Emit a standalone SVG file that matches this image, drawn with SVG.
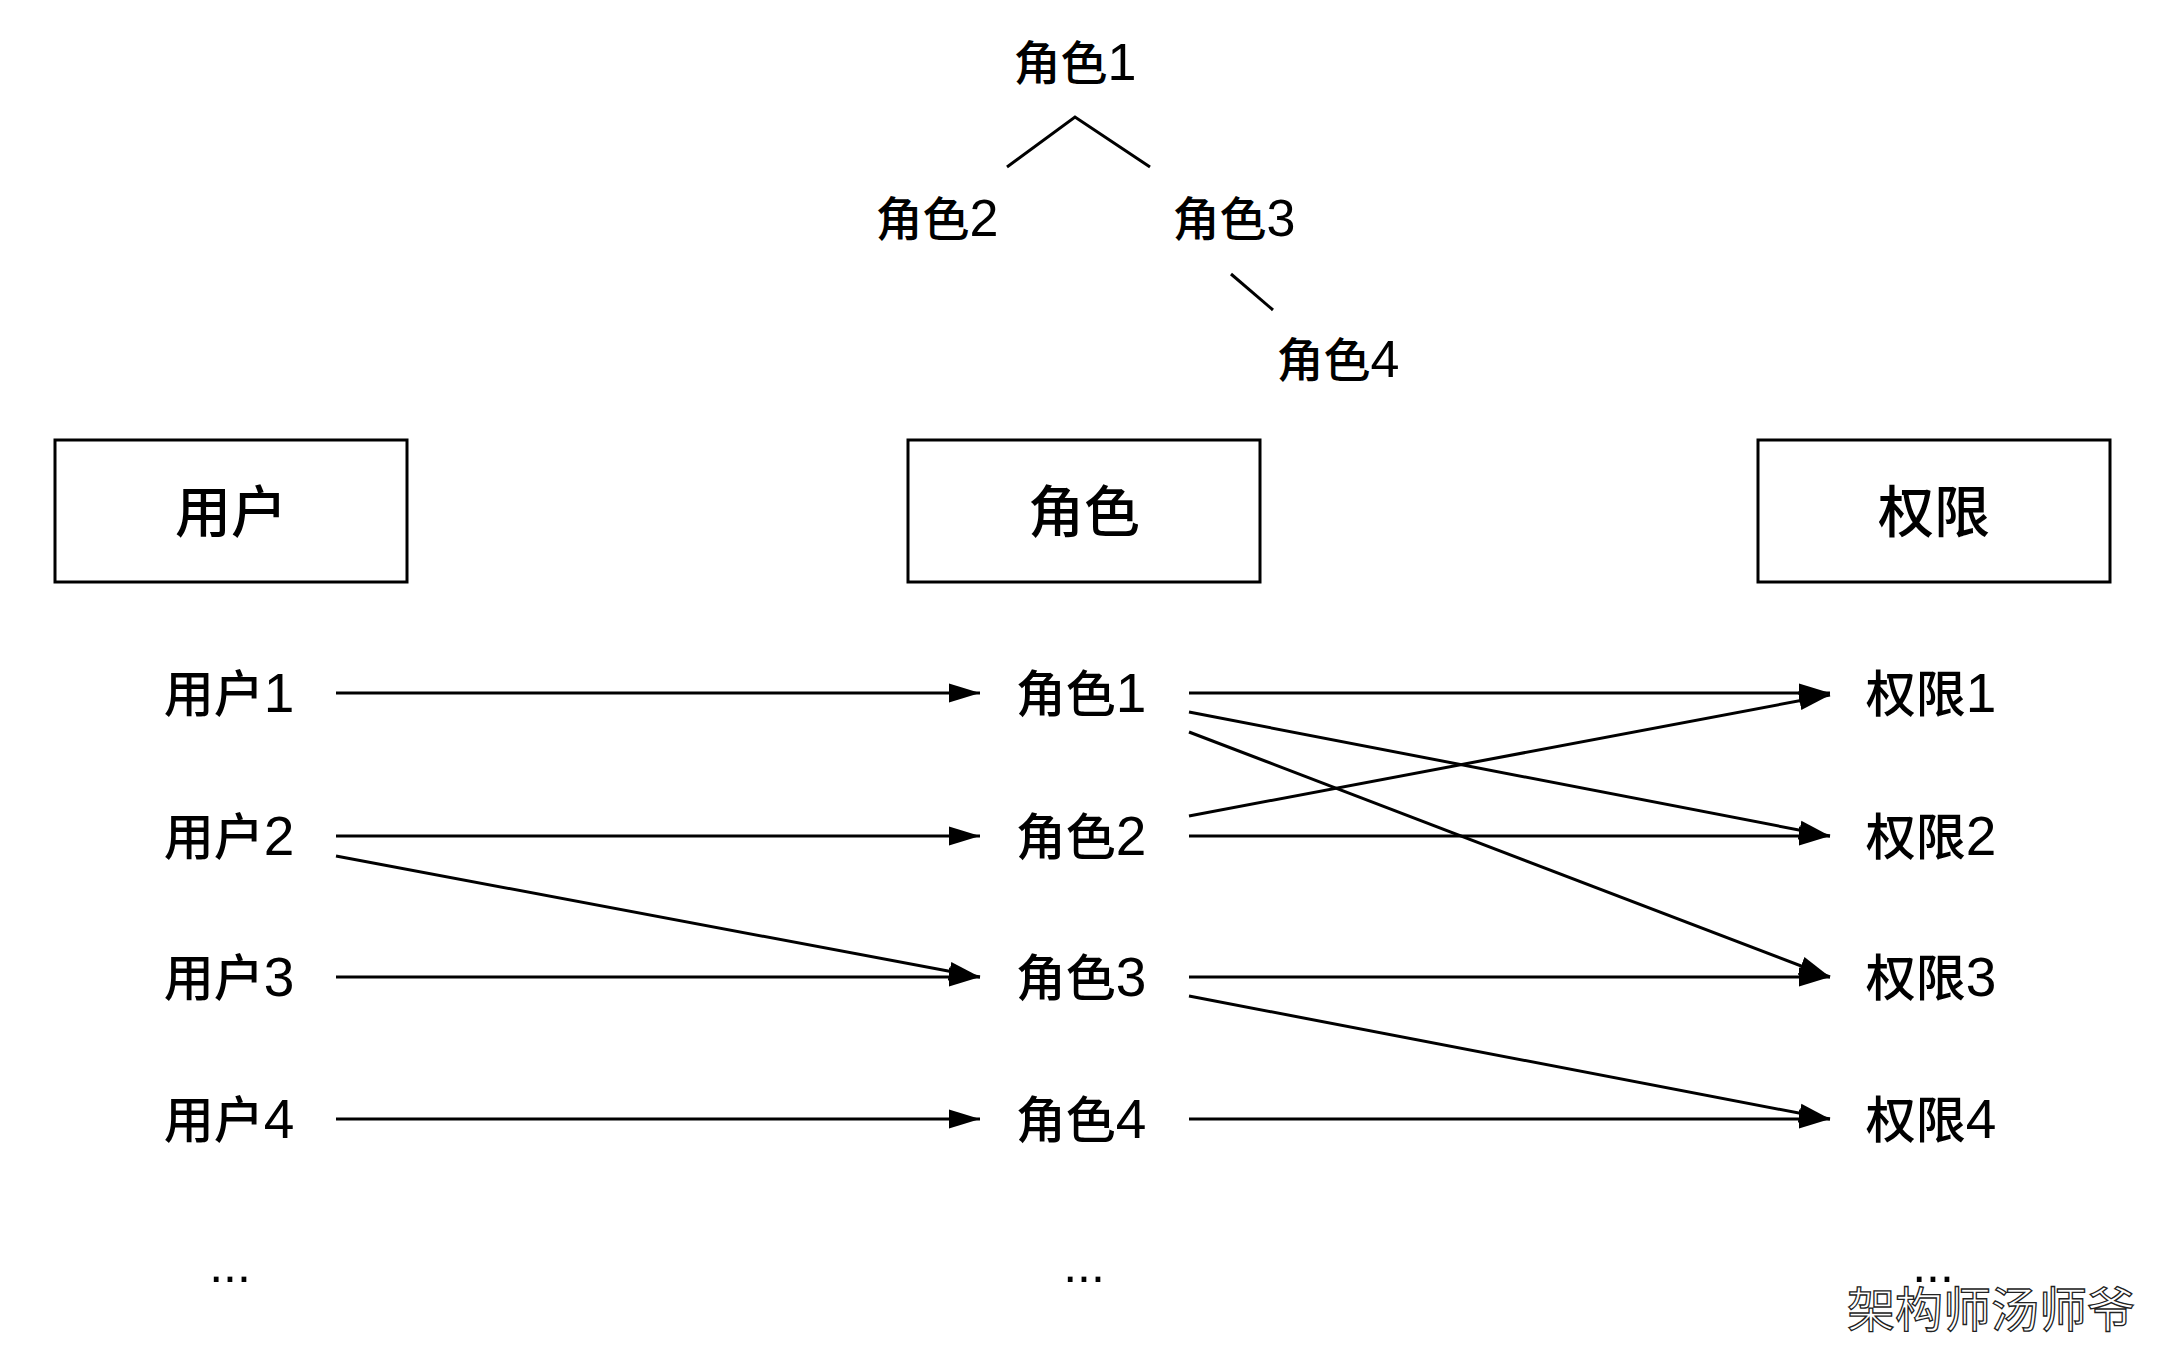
<svg xmlns="http://www.w3.org/2000/svg" width="2160" height="1351" viewBox="0 0 2160 1351">
<style>
text{font-family:"Liberation Sans","Noto Sans CJK SC",sans-serif;fill:#000;text-anchor:middle;font-weight:500}
.t{font-size:50px}
.t tspan{font-size:55px}
.tr{font-size:47px}
.tr tspan{font-size:52px}
.h{font-size:56px}
.box{fill:#fff;stroke:#000;stroke-width:3}
.ln{stroke:#000;stroke-width:3;fill:none}
.ar{stroke:#000;stroke-width:3;fill:none;marker-end:url(#ah)}
.wm{font-family:"Noto Sans CJK SC",sans-serif;font-size:48px;fill:#fff;stroke:#222;stroke-width:1.3px;text-anchor:start;font-weight:400}
</style>
<defs>
<marker id="ah" markerUnits="userSpaceOnUse" markerWidth="31" markerHeight="20" refX="31" refY="10" orient="auto">
<path d="M0,0.5 L31,10 L0,19.5 z" fill="#000"/>
</marker>
</defs>
<rect width="2160" height="1351" fill="#fff"/>
<g id="tree">
<text class="tr" x="1075" y="80">角色<tspan>1</tspan></text>
<text class="tr" x="937" y="236">角色<tspan>2</tspan></text>
<text class="tr" x="1234" y="236">角色<tspan>3</tspan></text>
<text class="tr" x="1338" y="377">角色<tspan>4</tspan></text>
<polyline class="ln" points="1007,167 1075,117 1150,167"/>
<line class="ln" x1="1231" y1="274" x2="1273" y2="310"/>
</g>
<g id="box-user"><rect class="box" x="55" y="440" width="352" height="142"/><text class="h" x="231" y="532">用户</text></g>
<g id="box-role"><rect class="box" x="908" y="440" width="352" height="142"/><text class="h" x="1084" y="532">角色</text></g>
<g id="box-perm"><rect class="box" x="1758" y="440" width="352" height="142"/><text class="h" x="1934" y="532">权限</text></g>
<g id="users">
<text class="t" x="229" y="712">用户<tspan>1</tspan></text>
<text class="t" x="229" y="855">用户<tspan>2</tspan></text>
<text class="t" x="229" y="996">用户<tspan>3</tspan></text>
<text class="t" x="229" y="1138">用户<tspan>4</tspan></text>
<text class="t" x="230" y="1282">...</text>
</g>
<g id="roles">
<text class="t" x="1081" y="712">角色<tspan>1</tspan></text>
<text class="t" x="1081" y="855">角色<tspan>2</tspan></text>
<text class="t" x="1081" y="996">角色<tspan>3</tspan></text>
<text class="t" x="1081" y="1138">角色<tspan>4</tspan></text>
<text class="t" x="1084" y="1282">...</text>
</g>
<g id="perms">
<text class="t" x="1931" y="712">权限<tspan>1</tspan></text>
<text class="t" x="1931" y="855">权限<tspan>2</tspan></text>
<text class="t" x="1931" y="996">权限<tspan>3</tspan></text>
<text class="t" x="1931" y="1138">权限<tspan>4</tspan></text>
<text class="t" x="1933" y="1282">...</text>
</g>
<g id="connectors">
<line class="ar" x1="336" y1="693" x2="980" y2="693"/>
<line class="ar" x1="336" y1="836" x2="980" y2="836"/>
<line class="ar" x1="336" y1="856" x2="980" y2="977"/>
<line class="ar" x1="336" y1="977" x2="980" y2="977"/>
<line class="ar" x1="336" y1="1119" x2="980" y2="1119"/>
<line class="ar" x1="1189" y1="693" x2="1830" y2="693"/>
<line class="ar" x1="1189" y1="712" x2="1830" y2="836"/>
<line class="ar" x1="1189" y1="732" x2="1830" y2="977"/>
<line class="ar" x1="1189" y1="816" x2="1830" y2="695"/>
<line class="ar" x1="1189" y1="836" x2="1830" y2="836"/>
<line class="ar" x1="1189" y1="977" x2="1830" y2="977"/>
<line class="ar" x1="1189" y1="996" x2="1830" y2="1119"/>
<line class="ar" x1="1189" y1="1119" x2="1830" y2="1119"/>
</g>
<text class="wm" x="1847" y="1327">架构师汤师爷</text>
</svg>
